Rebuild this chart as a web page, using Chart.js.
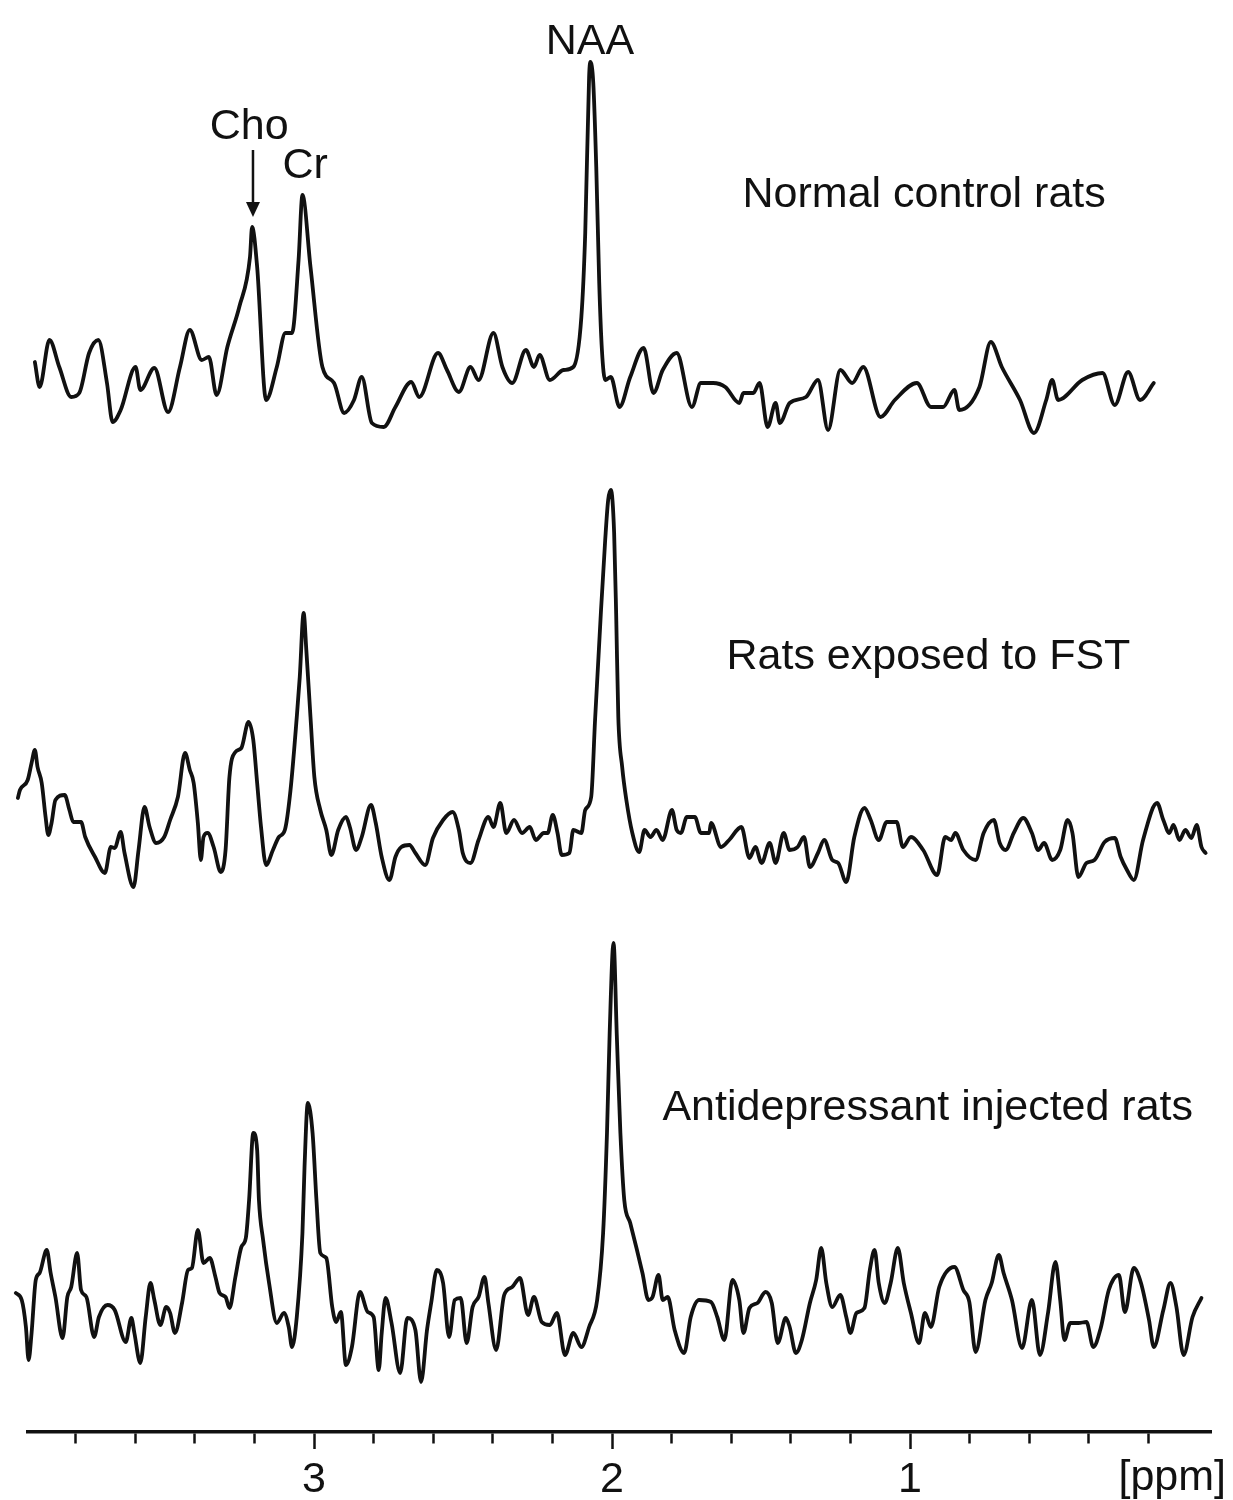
<!DOCTYPE html>
<html>
<head>
<meta charset="utf-8">
<title>1H MRS spectra</title>
<script src="https://cdn.jsdelivr.net/npm/chart.js@4.4.1/dist/chart.umd.min.js"></script>
<style>
  body { margin: 0; background: #fff; }
  #wrap { width: 1233px; height: 1500px; position: relative; }
</style>
</head>
<body>
<div id="wrap"><canvas id="spectraChart"></canvas></div>
<script>
// Chemical shift (ppm) and signal (a.u.), left to right
const normalPpm = [3.937, 3.921, 3.888, 3.855, 3.815, 3.788, 3.755, 3.724, 3.695, 3.676,
  3.649, 3.599, 3.583, 3.536, 3.490, 3.450, 3.417, 3.377, 3.353, 3.327,
  3.291, 3.251, 3.215, 3.208, 3.191, 3.161, 3.125, 3.096, 3.074, 3.052,
  3.039, 3.012, 2.972, 2.933, 2.899, 2.866, 2.840, 2.806, 2.766, 2.727,
  2.674, 2.647, 2.584, 2.554, 2.514, 2.475, 2.448, 2.398, 2.368, 2.335,
  2.289, 2.262, 2.243, 2.209, 2.163, 2.130, 2.103, 2.090, 2.077, 2.073,
  2.063, 2.053, 2.043, 2.034, 2.023, 2.004, 1.975, 1.939, 1.894, 1.861,
  1.830, 1.783, 1.732, 1.702, 1.661, 1.620, 1.573, 1.559, 1.526, 1.505,
  1.478, 1.451, 1.437, 1.404, 1.349, 1.309, 1.275, 1.234, 1.194, 1.157,
  1.099, 1.051, 0.977, 0.930, 0.889, 0.851, 0.835, 0.767, 0.729, 0.692,
  0.631, 0.584, 0.543, 0.523, 0.503, 0.422, 0.354, 0.313, 0.268, 0.228,
  0.182];
const normalSignal = [38, 13, 60, 33, 3, 7, 47, 60, 17, -22,
  -10, 33, 10, 32, -12, 33, 70, 40, 43, 5,
  53, 93, 143, 173, 133, 0, 33, 67, 67, 140,
  205, 133, 33, 17, -13, 0, 23, -23, -27, -7,
  18, 3, 47, 30, 8, 33, 20, 67, 33, 17,
  50, 33, 45, 20, 30, 33, 83, 167, 323, 338,
  317, 233, 117, 50, 20, 23, -7, 23, 52, 7,
  30, 47, -7, 17, 17, 13, -3, 7, 7, 17,
  -27, -3, -23, -3, 3, 20, -30, 30, 17, 33,
  -17, 0, 17, -7, -7, 10, -10, 13, 58, 33,
  0, -33, 0, 20, 0, 20, 27, -5, 28, 0,
  17];

const fstPpm = [3.994, 3.987, 3.961, 3.948, 3.937, 3.928, 3.914, 3.901, 3.892, 3.881,
  3.868, 3.837, 3.821, 3.808, 3.782, 3.768, 3.735, 3.702, 3.682, 3.669,
  3.649, 3.636, 3.606, 3.589, 3.569, 3.552, 3.530, 3.503, 3.483, 3.457,
  3.433, 3.417, 3.404, 3.390, 3.380, 3.371, 3.357, 3.337, 3.313, 3.297,
  3.284, 3.264, 3.244, 3.220, 3.204, 3.191, 3.178, 3.161, 3.138, 3.118,
  3.098, 3.079, 3.058, 3.048, 3.035, 3.026, 3.012, 2.999, 2.979, 2.959,
  2.942, 2.919, 2.893, 2.880, 2.859, 2.840, 2.809, 2.793, 2.773, 2.747,
  2.727, 2.707, 2.680, 2.660, 2.627, 2.601, 2.567, 2.535, 2.514, 2.501,
  2.475, 2.448, 2.415, 2.398, 2.375, 2.355, 2.329, 2.302, 2.276, 2.256,
  2.229, 2.216, 2.199, 2.183, 2.169, 2.143, 2.130, 2.103, 2.090, 2.070,
  2.057, 2.037, 2.023, 2.013, 2.004, 1.993, 1.986, 1.979, 1.966, 1.952,
  1.932, 1.909, 1.891, 1.871, 1.851, 1.830, 1.799, 1.783, 1.769, 1.749,
  1.722, 1.702, 1.674, 1.668, 1.634, 1.607, 1.566, 1.539, 1.519, 1.498,
  1.471, 1.451, 1.424, 1.404, 1.377, 1.356, 1.336, 1.309, 1.288, 1.261,
  1.241, 1.214, 1.187, 1.153, 1.132, 1.105, 1.078, 1.045, 1.024, 0.997,
  0.956, 0.909, 0.882, 0.862, 0.848, 0.821, 0.780, 0.753, 0.719, 0.699,
  0.679, 0.652, 0.620, 0.591, 0.570, 0.550, 0.523, 0.496, 0.471, 0.455,
  0.435, 0.408, 0.381, 0.347, 0.313, 0.293, 0.272, 0.249, 0.218, 0.171,
  0.150, 0.130, 0.116, 0.096, 0.076, 0.056, 0.038, 0.022, 0.008];
const fstSignal = [42, 50, 60, 77, 90, 73, 57, 23, 5, 17,
  40, 45, 30, 18, 18, 3, -17, -33, -7, -8,
  8, -13, -47, -10, 33, 13, -3, 3, 20, 43,
  87, 70, 57, 17, -20, 3, 7, -7, -32, -10,
  63, 88, 92, 118, 100, 57, 13, -25, -10, 3,
  10, 50, 123, 163, 227, 190, 123, 63, 30, 10,
  -15, 10, 23, 13, -10, 3, 35, 17, -17, -40,
  -17, -7, -5, -13, -25, 2, 20, 28, 10, -13,
  -23, 0, 23, 13, 37, 7, 20, 7, 13, 0,
  7, 7, 25, 7, -15, -13, 10, 7, 30, 43,
  120, 230, 300, 340, 350, 307, 223, 123, 73, 40,
  7, -12, 10, 3, 10, 0, 30, 10, 7, 23,
  23, 7, 7, 17, -7, 0, 13, -18, -7, -23,
  -3, -23, 7, -10, -7, 3, -27, -13, 0, -20,
  -23, -42, 3, 32, 20, 0, 18, 18, -7, 3,
  -10, -35, 3, 0, 7, -10, -20, 7, 20, -3,
  -10, 7, 22, 7, -10, -3, -20, -10, 20, 7,
  -37, -23, -20, -2, 2, -17, -30, -40, 0, 37,
  20, 7, 15, 0, 10, 2, 15, -7, -13];

const adPpm = [4.001, 3.981, 3.967, 3.958, 3.948, 3.934, 3.921, 3.897, 3.884, 3.868,
  3.844, 3.828, 3.815, 3.795, 3.782, 3.764, 3.738, 3.722, 3.693, 3.669,
  3.632, 3.613, 3.603, 3.583, 3.565, 3.549, 3.536, 3.516, 3.496, 3.483,
  3.467, 3.443, 3.423, 3.410, 3.390, 3.371, 3.350, 3.331, 3.317, 3.297,
  3.284, 3.264, 3.244, 3.229, 3.218, 3.204, 3.191, 3.185, 3.171, 3.151,
  3.125, 3.101, 3.085, 3.074, 3.058, 3.039, 3.032, 3.021, 3.005, 2.992,
  2.979, 2.959, 2.939, 2.926, 2.910, 2.893, 2.873, 2.846, 2.820, 2.800,
  2.783, 2.773, 2.760, 2.740, 2.711, 2.687, 2.660, 2.641, 2.621, 2.607,
  2.588, 2.567, 2.547, 2.528, 2.508, 2.488, 2.468, 2.448, 2.428, 2.415,
  2.389, 2.362, 2.335, 2.309, 2.282, 2.262, 2.236, 2.209, 2.185, 2.158,
  2.130, 2.103, 2.077, 2.050, 2.030, 2.017, 2.008, 1.995, 1.984, 1.972,
  1.959, 1.939, 1.918, 1.898, 1.878, 1.864, 1.844, 1.830, 1.813, 1.790,
  1.758, 1.736, 1.708, 1.668, 1.647, 1.623, 1.596, 1.573, 1.559, 1.539,
  1.512, 1.485, 1.464, 1.444, 1.417, 1.404, 1.383, 1.363, 1.336, 1.315,
  1.298, 1.281, 1.261, 1.234, 1.214, 1.200, 1.180, 1.153, 1.135, 1.119,
  1.105, 1.085, 1.065, 1.041, 1.021, 0.997, 0.970, 0.950, 0.930, 0.902,
  0.851, 0.821, 0.801, 0.780, 0.747, 0.726, 0.702, 0.686, 0.658, 0.624,
  0.591, 0.564, 0.537, 0.512, 0.496, 0.482, 0.462, 0.435, 0.408, 0.385,
  0.360, 0.333, 0.299, 0.279, 0.249, 0.225, 0.198, 0.182, 0.150, 0.126,
  0.106, 0.082, 0.052, 0.022];
const adSignal = [27, 20, -7, -40, -13, 40, 47, 70, 47, 23,
  -18, 23, 33, 67, 30, 23, -17, 3, 15, 10,
  -22, 2, -13, -43, 3, 37, 20, -5, 13, 7,
  -13, 17, 50, 52, 90, 57, 62, 43, 27, 23,
  12, 43, 73, 82, 120, 187, 170, 120, 80, 37,
  -3, 7, -7, -27, 3, 87, 153, 217, 187, 120,
  67, 62, 13, -2, 8, -45, -27, 28, 8, 3,
  -50, -13, 22, -3, -53, 2, -10, -62, -10, 17,
  50, 37, -17, 20, 22, -23, 13, 23, 43, 17,
  -30, 25, 33, 42, 5, 23, -2, -5, 7, -35,
  -13, -27, -7, 20, 87, 187, 287, 377, 284, 187,
  120, 97, 72, 47, 20, 23, 45, 20, 23, -10,
  -33, 3, 20, 18, 3, -20, 40, 20, -13, 12,
  17, 28, 17, -23, 2, -7, -33, -20, 17, 40,
  72, 37, 13, 25, 3, -13, 7, 12, 50, 70,
  37, 17, 37, 72, 37, 7, -23, 7, -7, 33,
  53, 30, 18, -32, 20, 37, 65, 47, 20, -28,
  20, -35, 7, 58, 20, -20, -3, -3, -2, -27,
  -8, 30, 45, 8, 52, 37, 0, -27, 10, 37,
  13, -35, 3, 22];

// vertical stacking of the three spectra
const stackOffsets = [1032, 592, 112];
const groupNames = ["Normal control rats", "Rats exposed to FST", "Antidepressant injected rats"];

const peakNames = ["Cho", "Cr", "NAA"];
const xTickLabels = ["1", "2", "3"];
const axisUnit = "[ppm]";

const FONT = '"Liberation Sans", Arial, Helvetica, sans-serif';
const INK = "#111";

function toPoints(ppm, signal, offset) {
  return ppm.map((p, i) => ({ x: p, y: offset + signal[i] }));
}

function isMajor(v) {
  return Math.abs(v - Math.round(v)) < 1e-6;
}

// text placement (ppm, height in chart units)
const peakLabelAt = [[3.218, 1293], [3.030, 1254], [2.074, 1378]];
const groupLabelAt = [[1.562, 1225], [1.616, 763], [1.831, 312]];

const labelsPlugin = {
  id: "labelsPlugin",
  afterDraw(chart) {
    const { ctx } = chart;
    const xs = chart.scales.x;
    const ys = chart.scales.y;
    ctx.save();
    ctx.fillStyle = INK;
    ctx.strokeStyle = INK;
    ctx.font = "43px " + FONT;
    ctx.textBaseline = "alphabetic";

    ctx.textAlign = "center";
    peakNames.forEach((t, i) => {
      ctx.fillText(t, xs.getPixelForValue(peakLabelAt[i][0]), ys.getPixelForValue(peakLabelAt[i][1]));
    });

    ctx.textAlign = "left";
    groupNames.forEach((t, i) => {
      ctx.fillText(t, xs.getPixelForValue(groupLabelAt[i][0]), ys.getPixelForValue(groupLabelAt[i][1]));
    });

    // Cho arrow
    const ax = xs.getPixelForValue(3.205);
    const y0 = ys.getPixelForValue(1282);
    const y1 = ys.getPixelForValue(1230);
    const y2 = ys.getPixelForValue(1215);
    ctx.lineWidth = 2.5;
    ctx.beginPath();
    ctx.moveTo(ax, y0);
    ctx.lineTo(ax, y1);
    ctx.stroke();
    ctx.beginPath();
    ctx.moveTo(ax - 7, y1);
    ctx.lineTo(ax + 7, y1);
    ctx.lineTo(ax, y2);
    ctx.closePath();
    ctx.fill();

    // unit label at the right end of the axis
    ctx.textAlign = "right";
    ctx.textBaseline = "middle";
    ctx.fillText(axisUnit, xs.right + 15, xs.top + 46);
    ctx.restore();
  },
};

const spectra = [
  toPoints(normalPpm, normalSignal, stackOffsets[0]),
  toPoints(fstPpm, fstSignal, stackOffsets[1]),
  toPoints(adPpm, adSignal, stackOffsets[2]),
];

document.addEventListener("DOMContentLoaded", function () {
  const ctx = document.getElementById("spectraChart").getContext("2d");

  new Chart(ctx, {
    type: "line",
    data: {
      datasets: spectra.map((pts, i) => ({
        label: groupNames[i],
        data: pts,
        borderColor: INK,
        borderWidth: 3.8,
        pointRadius: 0,
        cubicInterpolationMode: "monotone",
        borderJoinStyle: "round",
        borderCapStyle: "round",
        clip: false,
      })),
    },
    options: {
      responsive: true,
      maintainAspectRatio: false,
      animation: false,
      layout: { padding: { left: 28, right: 22, top: 0, bottom: 0 } },
      plugins: {
        legend: { display: false },
        tooltip: { enabled: false },
      },
      scales: {
        x: {
          type: "linear",
          reverse: true,
          min: -0.01,
          max: 3.96,
          afterFit: (scale) => {
            scale.height = 68;
          },
          border: { display: true, color: INK, width: 3.5 },
          grid: {
            display: true,
            drawOnChartArea: false,
            drawTicks: true,
            tickLength: 17,
            tickWidth: 2.5,
            tickColor: (c) => (c.tick && c.tick.value < 0.1 ? "rgba(0,0,0,0)" : INK),
            tickBorderDash: (c) => (c.tick && isMajor(c.tick.value) ? [] : [10, 40]),
          },
          ticks: {
            stepSize: 0.2,
            includeBounds: false,
            autoSkip: false,
            maxRotation: 0,
            padding: 5,
            color: INK,
            font: { family: FONT, size: 43 },
            callback: (v) => (isMajor(v) && xTickLabels.includes(String(Math.round(v))) ? String(Math.round(v)) : ""),
          },
        },
        y: {
          type: "linear",
          display: false,
          min: 0,
          max: 1432,
        },
      },
    },
    plugins: [labelsPlugin],
  });
});
</script>
</body>
</html>
